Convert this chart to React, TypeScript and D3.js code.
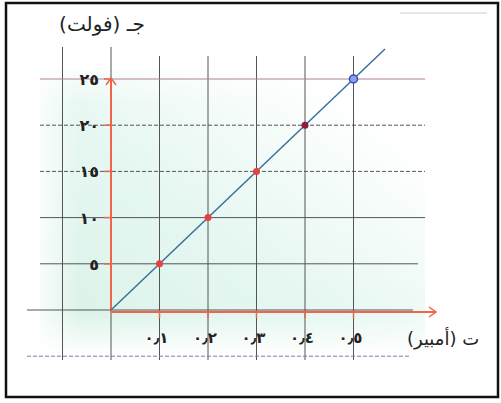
import React, { useEffect, useRef } from 'react';
import * as d3 from 'd3';

// data
const currents = [0.1, 0.2, 0.3, 0.4, 0.5];
const voltages = [5, 10, 15, 20, 25];
const xTickLabels = ['٠٫١', '٠٫٢', '٠٫٣', '٠٫٤', '٠٫٥'];
const yTickLabels = ['٥', '١٠', '١٥', '٢٠', '٢٥'];
const pointColors = ['#e8403c', '#e8403c', '#e8403c', '#8e1d3c', '#3548c0'];
const xGrid = [-0.1, 0, 0.1, 0.2, 0.3, 0.4, 0.5];
const yGrid = [-5, 0, 5, 10, 15, 20, 25];
const lineEnd = 0.565;
const yTitle = 'جـ (فولت)';
const xTitle = 'ت (أمبير)';

const App = () => {
  const svgRef = useRef<SVGSVGElement>(null);

  useEffect(() => {
    const svg = d3.select(svgRef.current);
    svg.selectAll('*').remove();

    const x = d3.scaleLinear().domain([0, 0.5]).range([111, 353.5]);
    const y = d3.scaleLinear().domain([0, 25]).range([310, 79]);
    const font = '"DejaVu Sans", sans-serif';

    // background wash (scan tint)
    const defs = svg.append('defs');
    const grad = defs.append('linearGradient')
      .attr('id', 'wash')
      .attr('x1', '0%').attr('y1', '100%')
      .attr('x2', '100%').attr('y2', '0%');
    grad.append('stop').attr('offset', '0%').attr('stop-color', '#d9f2e6');
    grad.append('stop').attr('offset', '45%').attr('stop-color', '#e6f7f2');
    grad.append('stop').attr('offset', '85%').attr('stop-color', '#ffffff');
    const fade = defs.append('linearGradient')
      .attr('id', 'fade').attr('x1', '0').attr('y1', '0').attr('x2', '0').attr('y2', '1');
    fade.append('stop').attr('offset', '0%').attr('stop-color', '#fff').attr('stop-opacity', 0.7);
    fade.append('stop').attr('offset', '12%').attr('stop-color', '#fff').attr('stop-opacity', 0);
    fade.append('stop').attr('offset', '85%').attr('stop-color', '#fff').attr('stop-opacity', 0);
    fade.append('stop').attr('offset', '100%').attr('stop-color', '#fff').attr('stop-opacity', 1);
    const fadeL = defs.append('linearGradient')
      .attr('id', 'fadeL').attr('x1', '0').attr('y1', '0').attr('x2', '1').attr('y2', '0');
    fadeL.append('stop').attr('offset', '0%').attr('stop-color', '#fff').attr('stop-opacity', 0.8);
    fadeL.append('stop').attr('offset', '10%').attr('stop-color', '#fff').attr('stop-opacity', 0);

    svg.append('rect').attr('width', 501).attr('height', 403).attr('fill', '#fff');
    [ 'url(#wash)', 'url(#fade)', 'url(#fadeL)' ].forEach(f => {
      svg.append('rect')
        .attr('x', 40).attr('y', 70).attr('width', 385).attr('height', 285)
        .attr('fill', f);
    });

    // frame
    svg.append('rect')
      .attr('x', 6).attr('y', 3).attr('width', 492).attr('height', 394)
      .attr('fill', 'none').attr('stroke', '#111').attr('stroke-width', 2.5);
    svg.append('line')
      .attr('x1', 400).attr('x2', 487).attr('y1', 13).attr('y2', 13)
      .attr('stroke', '#ccc').attr('stroke-width', 1);

    // vertical grid
    svg.append('g').selectAll('line').data(xGrid).enter().append('line')
      .attr('x1', d => x(d)).attr('x2', d => x(d))
      .attr('y1', d => (d <= 0 ? 47 : 56)).attr('y2', 360)
      .attr('stroke', '#555').attr('stroke-width', 1);

    // horizontal grid
    svg.append('g').selectAll('line').data(yGrid).enter().append('line')
      .attr('x1', d => (d <= 0 ? 27 : 40)).attr('x2', d => (d < 0 ? 410 : d === 0 ? 413 : d === 5 ? 418 : 425))
      .attr('y1', d => y(d)).attr('y2', d => y(d))
      .attr('stroke', d => (d === 25 ? '#b08090' : d < 0 ? '#7a7ab0' : '#555'))
      .attr('stroke-width', 1)
      .attr('stroke-dasharray', d => (d === 20 || d === 15 || d < 0 ? '4,2' : null));

    // axes
    const axisColor = '#f06448';
    const ax = svg.append('g').attr('stroke', axisColor).attr('fill', 'none').attr('stroke-width', 2);
    ax.append('line').attr('x1', x(0)).attr('x2', x(0)).attr('y1', y(0) + 2).attr('y2', y(25) - 1);
    ax.append('path')
      .attr('d', `M${x(0) - 5},${y(25) + 6}L${x(0)},${y(25) - 1}L${x(0) + 5},${y(25) + 6}`)
      .attr('stroke-width', 1.5);
    ax.append('line').attr('x1', x(0)).attr('x2', 436).attr('y1', y(0) + 2).attr('y2', y(0) + 2);
    ax.append('path')
      .attr('d', `M429,${y(0) - 3}L436,${y(0) + 2}L429,${y(0) + 7}`)
      .attr('stroke-width', 1.5);

    // ticks
    ax.selectAll('.xt').data(currents).enter().append('line')
      .attr('x1', d => x(d)).attr('x2', d => x(d))
      .attr('y1', y(0) + 2).attr('y2', y(0) + 8).attr('stroke-width', 1.5);
    ax.selectAll('.yt').data(voltages).enter().append('line')
      .attr('x1', x(0) - 7).attr('x2', x(0))
      .attr('y1', d => y(d)).attr('y2', d => y(d)).attr('stroke-width', 1.5);

    // tick labels
    svg.append('g').selectAll('text').data(xTickLabels).enter().append('text')
      .attr('x', (d, i) => x(currents[i]) - 3).attr('y', y(0) + 33)
      .attr('text-anchor', 'middle')
      .attr('font-family', font).attr('font-weight', 'bold').attr('font-size', 15)
      .attr('fill', '#222')
      .text(d => d);
    svg.append('g').selectAll('text').data(yTickLabels).enter().append('text')
      .attr('x', 99).attr('y', (d, i) => y(voltages[i]) + 6)
      .attr('text-anchor', 'end')
      .attr('font-family', font).attr('font-weight', 'bold').attr('font-size', 16)
      .attr('fill', '#222')
      .text(d => d);

    // axis titles
    svg.append('text')
      .attr('x', 102).attr('y', 31).attr('text-anchor', 'middle')
      .attr('direction', 'rtl')
      .attr('font-family', font).attr('font-size', 20).attr('fill', '#222')
      .text(yTitle);
    svg.append('text')
      .attr('x', 443).attr('y', 345).attr('text-anchor', 'middle')
      .attr('direction', 'rtl')
      .attr('font-family', font).attr('font-size', 18).attr('fill', '#222')
      .text(xTitle);

    // line through origin
    const line = d3.line<number>().x(d => x(d)).y(d => y(d * 50));
    svg.append('path')
      .datum([0, lineEnd])
      .attr('d', line)
      .attr('fill', 'none').attr('stroke', '#3d6e9c').attr('stroke-width', 1.5);

    // points
    svg.append('g').selectAll('circle').data(currents).enter().append('circle')
      .attr('cx', d => x(d)).attr('cy', (d, i) => y(voltages[i]))
      .attr('r', (d, i) => (i === 4 ? 4 : 3.5))
      .attr('fill', (d, i) => (i === 4 ? '#8fa0e8' : pointColors[i]))
      .attr('stroke', (d, i) => (i === 4 ? pointColors[i] : 'none'))
      .attr('stroke-width', 1.5);
  }, []);

  return (
    <svg ref={svgRef} width={501} height={403} style={{ position: 'absolute', left: 0, top: 0 }} />
  );
};

export default App;
